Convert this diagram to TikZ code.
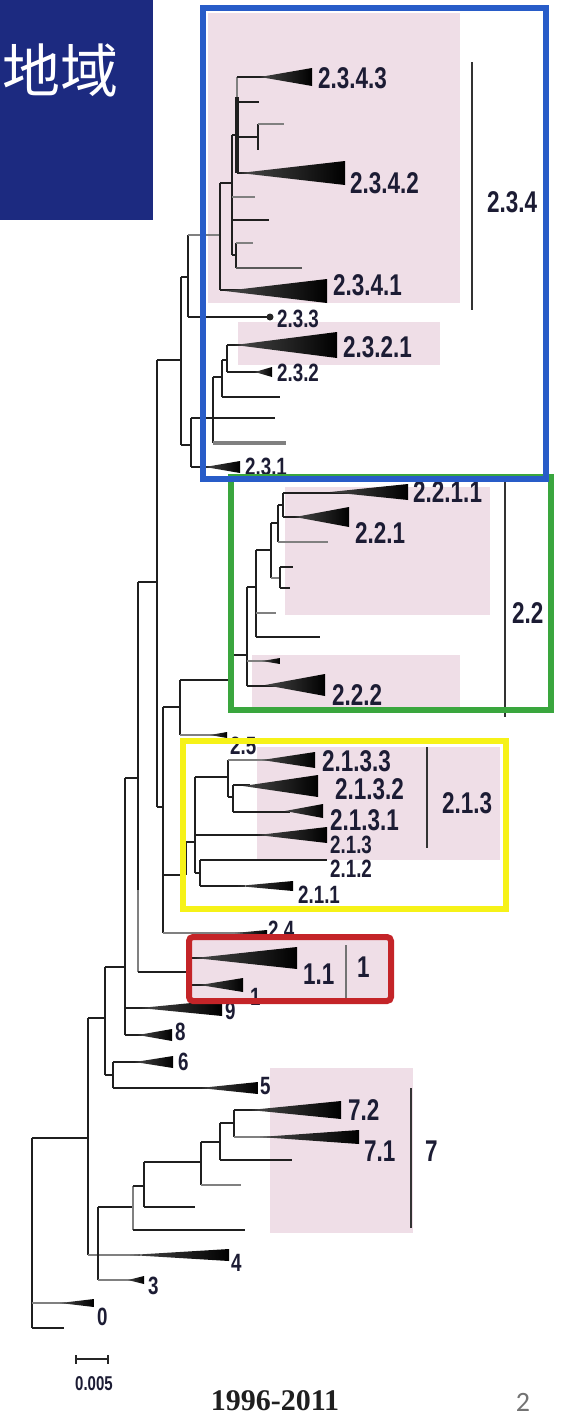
\documentclass[tikz,border=0pt]{standalone}
\usepackage{fontspec}
\newfontfamily\labfont[FakeStretch=0.75]{Liberation Sans}
\newfontfamily\cjkfont{Noto Sans CJK JP}
\newfontfamily\yrfont{Liberation Serif}
\newfontfamily\pgfont{Carlito}
\definecolor{navyc}{RGB}{28,42,128}
\definecolor{labc}{RGB}{28,28,52}
\definecolor{pinkc}{RGB}{239,222,231}
\definecolor{bluec}{RGB}{40,92,200}
\definecolor{greenc}{RGB}{58,166,62}
\definecolor{yellowc}{RGB}{246,242,24}
\definecolor{redc}{RGB}{196,36,40}
\tikzset{
  br/.style={draw=black!88, line width=2.8pt},
  gbr/.style={draw=black!50, line width=2.8pt},
  wedgest/.style={left color=black!72, right color=black, draw=none},
  biglab/.style={font=\labfont\bfseries\fontsize{30}{30}\selectfont, text=labc, inner sep=0pt, anchor=west},
  smalllab/.style={font=\labfont\bfseries\fontsize{25}{25}\selectfont, text=labc, inner sep=0pt, anchor=west},
  brk/.style={draw=black!80, line width=1.8pt},
  pinkbg/.style={fill=pinkc, draw=none},
  framebox/.style={line width=6pt, draw=#1},
}
\newcommand\wdg[4]{\shade[wedgest] (#1,#2) -- (#3,{#2-#4}) -- (#3,{#2+#4}) -- cycle;}
\begin{document}
\begin{tikzpicture}[x=1pt,y=-1pt]
\useasboundingbox (0,0) rectangle (565,1416);
\fill[white] (0,0) rectangle (565,1416);
% header
\fill[navyc] (0,0) rectangle (153,220);
\node[font=\cjkfont\fontsize{58}{58}\selectfont, text=white, inner sep=0pt] (title) at (60,70) {地域};
% pink backgrounds
\fill[pinkbg] (208,13) rectangle (460,303);
\fill[pinkbg] (238,322) rectangle (440,365);
\fill[pinkbg] (285,487) rectangle (490,615);
\fill[pinkbg] (252,655) rectangle (460,708);
\fill[pinkbg] (257,747) rectangle (500,860);
\fill[pinkbg] (190,940) rectangle (388,998);
\fill[pinkbg] (270,1068) rectangle (413,1233);
% ===== backbone and basal clades
\draw[br] (32,1138) -- (32,1328);
\draw[br] (32,1328) -- (64,1328);
\draw[gbr] (32,1303) -- (66,1303);
\wdg{60}{1303}{94}{4}
\draw[br] (32,1138) -- (88,1138);
\draw[br] (88,1018) -- (88,1255);
\draw[br] (88,1018) -- (105,1018);
\draw[gbr] (88,1255) -- (140,1255);
\wdg{130}{1255}{229}{6}
\draw[br] (98,1207) -- (98,1280);
\draw[gbr] (98,1280) -- (135,1280);
\wdg{128}{1280}{144}{4}
\draw[br] (98,1207) -- (133,1207);
\draw[gbr] (133,1186) -- (133,1230);
\draw[br] (133,1230) -- (245,1230);
\draw[br] (133,1186) -- (144,1186);
\draw[br] (144,1162) -- (144,1207);
\draw[br] (144,1207) -- (195,1207);
\draw[br] (144,1162) -- (201,1162);
\draw[br] (201,1142) -- (201,1185);
\draw[gbr] (201,1185) -- (241,1185);
\draw[br] (201,1142) -- (220,1142);
\draw[br] (220,1123) -- (220,1160);
\draw[br] (220,1160) -- (292,1160);
\draw[br] (220,1123) -- (234,1123);
\draw[br] (234,1110) -- (234,1137);
\draw[br] (234,1110) -- (276,1110);
\wdg{250}{1110}{341}{9}
\draw[gbr] (234,1137) -- (280,1137);
\wdg{260}{1137}{359}{7}
% 5 and 6
\draw[br] (105,967) -- (105,1075);
\draw[br] (105,967) -- (125,967);
\draw[br] (105,1075) -- (113,1075);
\draw[br] (113,1062) -- (113,1088);
\draw[br] (113,1062) -- (145,1062);
\wdg{135}{1062}{173}{6}
\draw[br] (113,1088) -- (215,1088);
\wdg{200}{1088}{258}{6}
% 9 and 8
\draw[br] (125,778) -- (125,1035);
\draw[br] (125,1008) -- (150,1008);
\wdg{140}{1008}{222}{8}
\draw[br] (125,1035) -- (145,1035);
\wdg{138}{1035}{172}{6}
% node 138
\draw[br] (125,778) -- (138,778);
\draw[br] (138,582) -- (138,890);
\draw[gbr] (138,890) -- (138,972);
\draw[br] (138,972) -- (191,972);
% clade 1
\draw[br] (191,958) -- (191,985);
\draw[br] (191,958) -- (210,958);
\wdg{195}{958}{297}{11}
\draw[br] (191,985) -- (205,985);
\wdg{200}{985}{243}{7}
% node 157
\draw[br] (138,582) -- (157,582);
\draw[br] (157,360) -- (157,807);
\draw[br] (157,360) -- (181,360);
\draw[br] (157,807) -- (163,807);
\draw[br] (163,707) -- (163,933);
\draw[gbr] (163,933) -- (245,933);
\wdg{235}{933}{267}{3}
\draw[br] (163,875) -- (186,875);
\draw[br] (163,707) -- (180,707);
\draw[br] (180,680) -- (180,735);
\draw[gbr] (180,735) -- (215,735);
\wdg{210}{735}{227}{3}
% clade 2.1
\draw[br] (186,842) -- (186,875);
\draw[br] (186,842) -- (195,842);
\draw[br] (195,777) -- (195,873);
\draw[br] (195,777) -- (228,777);
\draw[br] (228,760) -- (228,797);
\draw[gbr] (228,760) -- (270,760);
\wdg{262}{760}{315}{8}
\draw[br] (228,797) -- (233,797);
\draw[br] (233,785) -- (233,812);
\draw[br] (233,785) -- (250,785);
\wdg{243}{786}{318}{11}
\draw[br] (233,812) -- (290,812);
\wdg{285}{811}{323}{7}
\draw[br] (195,835) -- (265,835);
\wdg{258}{835}{327}{8}
\draw[br] (195,873) -- (200,873);
\draw[br] (200,860) -- (200,886);
\draw[br] (200,860) -- (327,860);
\draw[br] (200,886) -- (245,886);
\wdg{238}{886}{293}{5}
% clade 2.2
\draw[br] (180,680) -- (229,680) -- (229,655) -- (247,655);
\draw[br] (247,587) -- (247,686);
\draw[gbr] (247,661) -- (270,661);
\wdg{262}{661}{280}{3}
\draw[br] (247,686) -- (275,686);
\wdg{265}{685}{325}{11}
\draw[br] (247,587) -- (256,587);
\draw[br] (256,550) -- (256,637);
\draw[gbr] (256,613) -- (276,613);
\draw[br] (256,637) -- (320,637);
\draw[br] (256,550) -- (271,550);
\draw[br] (271,523) -- (271,578);
\draw[gbr] (271,578) -- (280,578);
\draw[br] (280,567) -- (280,588);
\draw[br] (280,567) -- (293,567);
\draw[br] (280,588) -- (290,588);
\draw[br] (271,523) -- (278,523);
\draw[br] (278,505) -- (278,542);
\draw[gbr] (278,542) -- (328,542);
\draw[br] (278,505) -- (283,505);
\draw[br] (283,493) -- (283,517);
\draw[br] (283,493) -- (350,493);
\wdg{330}{492}{408}{8}
\draw[br] (283,517) -- (305,517);
\wdg{295}{517}{349}{10}
% clade 2.3
\draw[br] (181,277) -- (181,445);
\draw[br] (181,277) -- (188,277);
\draw[br] (181,445) -- (191,445);
\draw[br] (188,235) -- (188,317);
\draw[br] (188,317) -- (268,317);
\fill[black!85] (270,317) circle (3.5);
\draw[gbr] (188,235) -- (220,235);
\draw[br] (220,183) -- (220,290);
\draw[br] (220,290) -- (240,290);
\wdg{225}{291}{327}{12}
\draw[br] (220,183) -- (232,183);
\draw[br] (232,135) -- (232,255);
\draw[br] (232,135) -- (237,135);
\draw[gbr] (237,77) -- (237,97);
\draw[br, line width=3.8pt] (237,97) -- (237,173);
\draw[br] (237,77) -- (265,77);
\wdg{260}{77}{312}{9}
\draw[br] (237,102) -- (259,102);
\draw[br] (237,137) -- (258,137);
\draw[br] (258,124) -- (258,150);
\draw[gbr] (258,124) -- (284,124);
\draw[br] (237,173) -- (255,173);
\wdg{240}{173}{345}{12}
\draw[gbr] (232,197) -- (255,197);
\draw[br] (232,220) -- (269,220);
\draw[br] (232,255) -- (236,255);
\draw[br] (236,243) -- (236,268);
\draw[gbr] (236,243) -- (253,243);
\draw[draw=black!65, line width=2.8pt] (236,268) -- (302,268);
\draw[br] (191,418) -- (191,467);
\draw[br] (191,467) -- (212,467);
\wdg{205}{467}{240}{6}
\draw[br] (191,418) -- (275,418);
\draw[br] (213,377) -- (213,443);
\draw[gbr, line width=3.8pt] (213,443) -- (286,443);
\draw[br] (213,377) -- (222,377);
\draw[br] (222,360) -- (222,397);
\draw[br] (222,397) -- (280,397);
\draw[br] (222,360) -- (227,360);
\draw[br] (227,345) -- (227,372);
\draw[br] (227,345) -- (250,345);
\wdg{235}{345}{337}{13}
\draw[br] (227,372) -- (262,372);
\wdg{255}{372}{272}{5}
% ===== labels
\node[biglab] (l2343) at (318,78) {2.3.4.3};
\node[biglab] (l2342) at (350,183) {2.3.4.2};
\node[biglab] (l2341) at (333,285) {2.3.4.1};
\node[smalllab] (l233) at (277,319) {2.3.3};
\node[biglab] (l2321) at (343,347) {2.3.2.1};
\node[smalllab] (l232) at (277,373) {2.3.2};
\node[smalllab] (l231) at (245,467) {2.3.1};
\node[biglab] (l2211) at (413,492) {2.2.1.1};
\node[biglab] (l221) at (355,533) {2.2.1};
\node[biglab] (l222) at (332,695) {2.2.2};
\node[smalllab] (l25) at (230,746) {2.5};
\node[biglab] (l2133) at (322,761) {2.1.3.3};
\node[biglab] (l2132) at (335,789) {2.1.3.2};
\node[biglab] (l2131) at (330,820) {2.1.3.1};
\node[smalllab] (l213s) at (330,845) {2.1.3};
\node[smalllab] (l212) at (330,869) {2.1.2};
\node[smalllab] (l211) at (298,895) {2.1.1};
\node[smalllab] (l24) at (268,930) {2.4};
\node[biglab] (l11) at (303,974) {1.1};
\node[smalllab] (l1s) at (250,997) {1};
\node[smalllab] (l9) at (225,1011) {9};
\node[smalllab] (l8) at (175,1032) {8};
\node[smalllab] (l6) at (178,1062) {6};
\node[smalllab] (l5) at (260,1086) {5};
\node[biglab] (l72) at (348,1110) {7.2};
\node[biglab] (l71) at (364,1151) {7.1};
\node[smalllab] (l4) at (231,1263) {4};
\node[smalllab] (l3) at (148,1286) {3};
\node[smalllab] (l0) at (97,1317) {0};
% brackets
\draw[brk] (472,62) -- (472,310);
\node[biglab] (b234) at (487,202) {2.3.4};
\draw[brk] (505,480) -- (505,717);
\node[biglab] (b22) at (512,613) {2.2};
\draw[brk] (427,747) -- (427,848);
\node[biglab] (b213) at (442,803) {2.1.3};
\draw[draw=black!55, line width=1.8pt] (346,945) -- (346,1000);
\node[biglab] (b1) at (357,967) {1};
\draw[brk] (411,1088) -- (411,1228);
\node[biglab] (b7) at (425,1151) {7};
% ===== frames
\draw[framebox=greenc] (231,477) rectangle (551,710);
\draw[framebox=bluec] (203,8) rectangle (546,479);
\draw[framebox=yellowc] (183,741) rectangle (506,909);
\draw[framebox=redc, rounded corners=4pt] (189,937) rectangle (391,1001);
% scale bar
\draw[draw=black!85, line width=1.8pt] (76,1355) -- (76,1364) (76,1359) -- (108,1359) (108,1355) -- (108,1364);
\node[font=\labfont\bfseries\fontsize{20}{20}\selectfont, text=labc, inner sep=0pt] (scl) at (94,1384) {0.005};
\node[font=\yrfont\bfseries\fontsize{30}{30}\selectfont, text=black!88, inner sep=0pt] (yrs) at (275,1401) {1996-2011};
\node[font=\pgfont\fontsize{28}{28}\selectfont, text=black!55, inner sep=0pt] (pg) at (523,1402) {2};
\end{tikzpicture}
\end{document}
